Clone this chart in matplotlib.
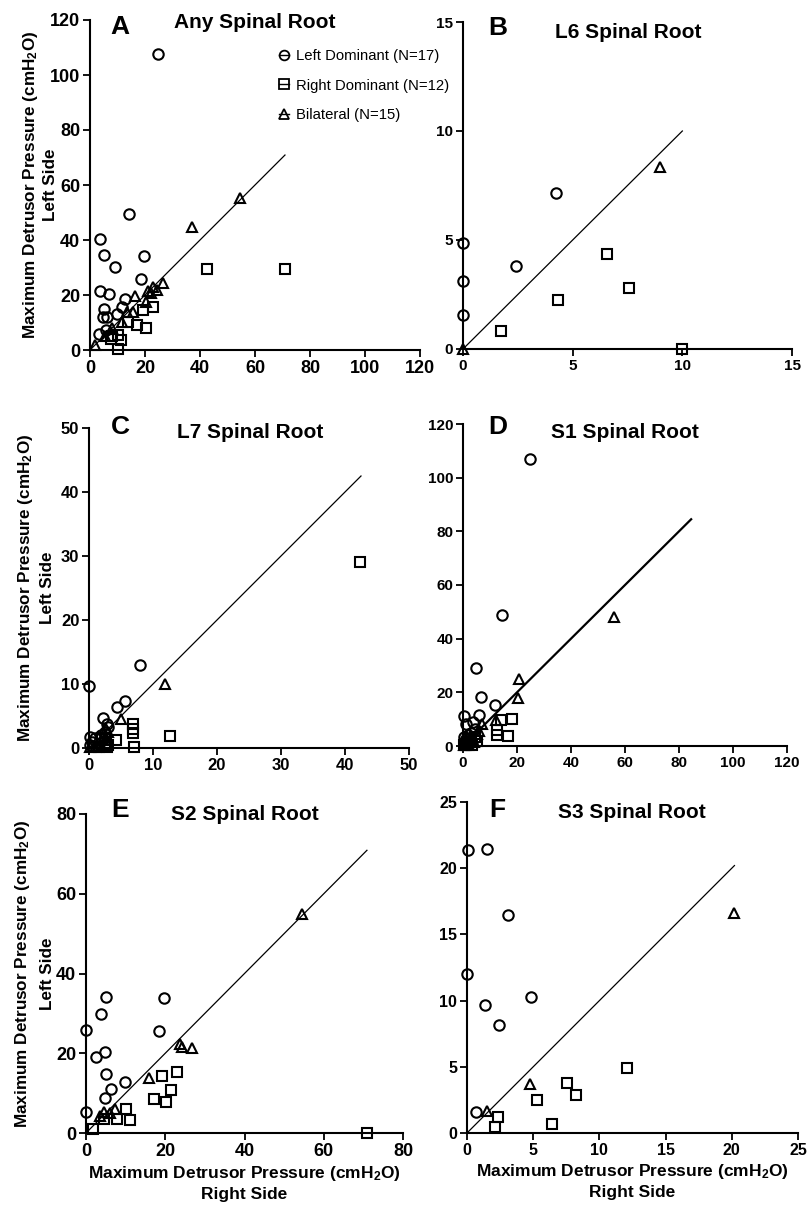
import matplotlib
matplotlib.use('Agg')
import matplotlib.pyplot as plt
from matplotlib.lines import Line2D

plt.rcParams['font.family'] = ['Liberation Sans', 'DejaVu Sans']
plt.rcParams['mathtext.fontset'] = 'custom'
plt.rcParams['mathtext.bf'] = 'Liberation Sans:bold'
plt.rcParams['mathtext.rm'] = 'Liberation Sans:bold'
plt.rcParams['mathtext.default'] = 'bf'

# ---------------- data ----------------
# A: Any spinal root
a_left_x = [24.6, 14.3, 3.6, 5.1, 19.6, 9.0, 18.4, 3.6, 7.0, 12.6, 11.6, 5.1, 4.8, 6.3, 9.7, 5.8, 3.2]
a_left_y = [107.5, 49.5, 40.2, 34.4, 34.2, 30.1, 25.9, 21.6, 20.4, 18.4, 15.8, 14.8, 12.1, 12.1, 13.1, 7.3, 5.7]
a_right_x = [42.4, 70.9, 19.4, 23.0, 13.9, 17.0, 20.2, 7.9, 10.1, 7.5, 11.3, 10.3]
a_right_y = [29.3, 29.3, 14.5, 15.5, 10.3, 9.1, 7.9, 5.1, 5.5, 4.0, 3.6, 0.4]
a_bil_x = [54.5, 37.0, 26.7, 24.2, 21.2, 16.4, 20.5, 15.8, 11.6, 1.9, 23.0, 13.6, 8.0, 5.5, 22.0]
a_bil_y = [55.3, 44.8, 24.5, 21.8, 21.6, 19.6, 17.6, 13.9, 10.3, 1.8, 22.8, 13.9, 7.9, 5.0, 20.6]

# B: L6
b_left_x = [4.22, 0.0, 2.42, 0.0, 0.0]
b_left_y = [7.17, 4.85, 3.83, 3.1, 1.57]
b_right_x = [6.58, 7.57, 4.31, 1.75, 9.97]
b_right_y = [4.36, 2.79, 2.26, 0.84, 0.0]
b_bil_x = [8.98, 0.0]
b_bil_y = [8.36, 0.0]

# C: L7
c_left_x = [8.0, 0.0, 5.6, 4.4, 2.2, 2.5, 1.8, 3.0, 0.2, 0.5, 0.1, 2.8, 1.0]
c_left_y = [12.9, 9.7, 7.4, 6.4, 4.7, 2.5, 2.0, 3.3, 1.7, 1.0, 0.5, 3.8, 1.5]
c_right_x = [42.4, 12.7, 6.9, 6.9, 6.9, 7.0, 4.2, 2.5, 2.8, 1.5, 2.0, 3.0]
c_right_y = [29.1, 1.8, 3.8, 3.0, 2.3, 0.15, 1.2, 0.8, 0.2, 0.1, 1.5, 0.5]
c_bil_x = [11.9, 5.0, 2.7, 3.0, 0.2, 1.8, 2.5, 1.0]
c_bil_y = [10.0, 4.6, 3.0, 2.5, 0.1, 0.5, 1.2, 0.2]

# D: S1
d_left_x = [24.7, 14.5, 4.9, 6.8, 12.0, 5.9, 0.2, 3.7, 1.1, 0.5, 1.0, 2.0, 3.0, 0.3, 1.5, 4.5, 2.5]
d_left_y = [107.1, 49.0, 28.9, 18.1, 15.2, 11.7, 11.1, 9.0, 8.3, 3.5, 2.5, 4.0, 5.0, 1.5, 3.0, 6.5, 1.0]
d_right_x = [18.3, 14.0, 12.7, 12.7, 16.7, 5.0, 3.5, 1.0, 2.0, 4.5, 0.5, 3.0]
d_right_y = [10.1, 9.6, 5.9, 4.0, 3.7, 2.0, 0.5, 0.3, 1.5, 3.5, 0.5, 2.5]
d_bil_x = [56.0, 20.8, 20.4, 12.4, 7.2, 0.5, 1.5, 2.5, 3.5, 5.0, 4.0, 1.0, 2.0, 6.0]
d_bil_y = [47.9, 24.8, 17.9, 9.8, 8.3, 0.2, 2.0, 2.0, 3.0, 4.5, 1.5, 1.0, 0.5, 5.5]

# E: S2
e_left_x = [5.1, 19.6, 3.9, 0.0, 18.4, 4.7, 2.6, 5.1, 9.8, 6.4, 4.7, 0.0]
e_left_y = [34.1, 33.9, 29.8, 25.8, 25.6, 20.2, 19.1, 14.9, 12.9, 11.0, 8.8, 5.3]
e_right_x = [70.9, 23.0, 19.3, 21.4, 17.1, 20.2, 10.2, 7.7, 11.2, 4.5, 1.8]
e_right_y = [0.0, 15.2, 14.4, 10.7, 8.6, 7.7, 5.9, 3.6, 3.2, 3.5, 1.0]
e_bil_x = [54.5, 23.8, 24.2, 26.7, 16.0, 7.4, 4.5, 6.1, 3.6]
e_bil_y = [55.0, 22.4, 21.6, 21.3, 13.7, 6.0, 5.2, 5.0, 4.2]

# F: S3
f_left_x = [0.08, 1.51, 3.1, 0.0, 4.83, 1.33, 2.44, 0.65]
f_left_y = [21.4, 21.45, 16.5, 12.0, 10.3, 9.64, 8.16, 1.56]
f_right_x = [12.06, 7.55, 8.26, 5.29, 2.34, 2.14, 6.42]
f_right_y = [4.91, 3.78, 2.9, 2.47, 1.21, 0.45, 0.68]
f_bil_x = [20.2, 4.78, 1.51]
f_bil_y = [16.6, 3.73, 1.64]

panel_letters = ['A', 'B', 'C', 'D', 'E', 'F']
panel_titles = ['Any Spinal Root', 'L6 Spinal Root', 'L7 Spinal Root',
                'S1 Spinal Root', 'S2 Spinal Root', 'S3 Spinal Root']
axis_max = [120, 15, 50, 120, 80, 25]
tick_step = [20, 5, 10, 20, 20, 5]
line_end = [70.9, 10.0, 42.5, 84.5, 70.9, 20.2]
legend_labels = ['Left Dominant (N=17)', 'Right Dominant (N=12)', 'Bilateral (N=15)']

panels = [
    (a_left_x, a_left_y, a_right_x, a_right_y, a_bil_x, a_bil_y),
    (b_left_x, b_left_y, b_right_x, b_right_y, b_bil_x, b_bil_y),
    (c_left_x, c_left_y, c_right_x, c_right_y, c_bil_x, c_bil_y),
    (d_left_x, d_left_y, d_right_x, d_right_y, d_bil_x, d_bil_y),
    (e_left_x, e_left_y, e_right_x, e_right_y, e_bil_x, e_bil_y),
    (f_left_x, f_left_y, f_right_x, f_right_y, f_bil_x, f_bil_y),
]

# ---------------- layout (pixel boxes: x0, x1, y_top, y_bottom) ----------------
W, H = 809, 1209
boxes = [(90, 420, 20, 350), (463, 792, 22, 349),
         (89, 409, 428, 748), (463, 787, 424, 746),
         (86, 403, 814, 1133), (467, 798, 802, 1133)]
tick_fs = [13, 11, 12, 11, 13, 11.5]
# y-label line centres (pixels from left): first line, second line
ylab_px = [(31, 51), None, (26, 48), None, (23, 47), None]
letter_pos = [(120, 27), (498, 28), (120, 427), (498, 427), (120, 810), (497, 810)]
title_pos = [(255, 22), (628, 32), (250, 432), (625, 433), (245, 815), (632, 813)]

fig = plt.figure(figsize=(W / 100, H / 100), dpi=100)

YLAB1 = 'Maximum Detrusor Pressure (cmH$_2$O)'
YLAB2 = 'Left Side'
XLAB = 'Maximum Detrusor Pressure (cmH$_2$O)\nRight Side'

for i, (lx, ly, rx, ry, bx, by) in enumerate(panels):
    x0, x1, yt, yb = boxes[i]
    ax = fig.add_axes([x0 / W, 1 - yb / H, (x1 - x0) / W, (yb - yt) / H])
    m = axis_max[i]
    ax.set_xlim(0, m)
    ax.set_ylim(0, m)
    ax.set_xticks(range(0, m + 1, tick_step[i]))
    ax.set_yticks(range(0, m + 1, tick_step[i]))
    for s in ['top', 'right']:
        ax.spines[s].set_visible(False)
    for s in ['left', 'bottom']:
        ax.spines[s].set_linewidth(1.5)
    ax.tick_params(direction='out', length=5, width=1.3, labelsize=tick_fs[i], pad=2)
    for lab in ax.get_xticklabels() + ax.get_yticklabels():
        lab.set_fontweight('bold')

    ax.plot([0, line_end[i]], [0, line_end[i]], color='black',
            lw=1.6 if i == 3 else 0.9, zorder=1)

    ax.plot(lx, ly, 'o', ms=7.5, mfc='none', mec='black', mew=1.5, clip_on=False, zorder=3)
    ax.plot(rx, ry, 's', ms=7.5, mfc='none', mec='black', mew=1.5, clip_on=False, zorder=3)
    ax.plot(bx, by, '^', ms=7.5, mfc='none', mec='black', mew=1.5, clip_on=False, zorder=3)

    if ylab_px[i] is not None:
        ymid = 1 - (yt + yb) / 2 / H
        for px, txt in zip(ylab_px[i], [YLAB1, YLAB2]):
            fig.text(px / W, ymid, txt, rotation=90, fontsize=12.3, fontweight='bold',
                     ha='center', va='center')
    if i in (4, 5):
        ax.set_xlabel(XLAB, fontsize=12.5, fontweight='bold', linespacing=1.35, labelpad=3)

    lpx, lpy = letter_pos[i]
    fig.text(lpx / W, 1 - lpy / H, panel_letters[i], fontsize=19, fontweight='bold',
             ha='center', va='center')
    tpx, tpy = title_pos[i]
    fig.text(tpx / W, 1 - tpy / H, panel_titles[i], fontsize=15, fontweight='bold',
             ha='center', va='center')

    if i == 0:
        handles = [
            Line2D([0], [0], marker='o', ms=7, mfc='none', mec='black', mew=1.3,
                   color='black', lw=1),
            Line2D([0], [0], marker='s', ms=7, mfc='none', mec='black', mew=1.3,
                   color='black', lw=1),
            Line2D([0], [0], marker='^', ms=7, mfc='none', mec='black', mew=1.3,
                   color='black', lw=1),
        ]
        ax.legend(handles, legend_labels, loc='upper left', bbox_to_anchor=(0.555, 0.93),
                  frameon=False, fontsize=10.7, handlelength=0.7, handletextpad=0.45,
                  labelspacing=1.05, borderaxespad=0)

fig.savefig('out.png', dpi=100)
